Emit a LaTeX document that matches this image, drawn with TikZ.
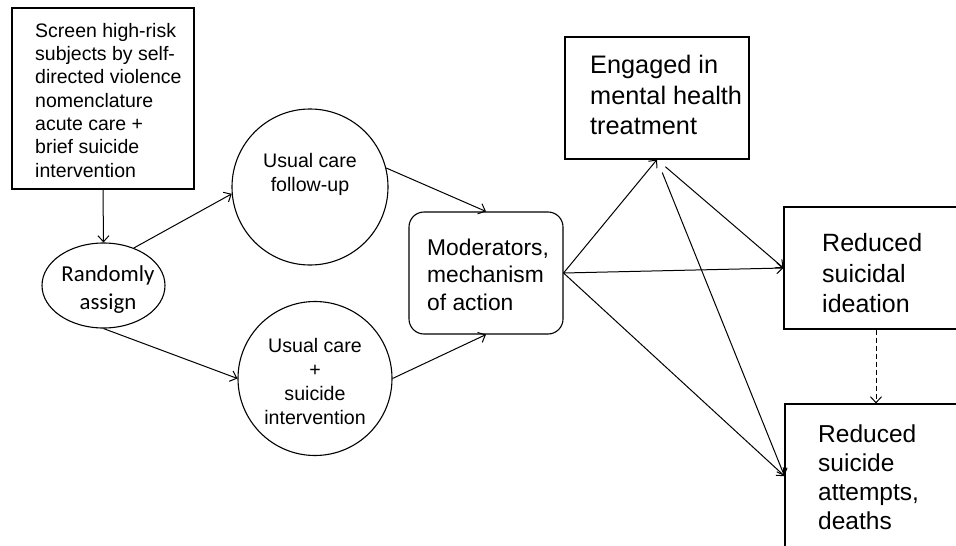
\documentclass[tikz,border=0pt]{standalone}
\usepackage{fontspec}
\setmainfont{Liberation Sans}
\newfontfamily\calibrifont{Carlito}
\usetikzlibrary{arrows.meta,shapes.geometric}

\begin{document}
\begin{tikzpicture}[x=1pt,y=1pt,yscale=-1,xscale=1,
  box/.style={draw, line width=1.1pt, inner sep=0pt},
  txt/.style={inner sep=0pt, align=left},
  link/.style={line width=1pt, -{Straight Barb[length=6pt,width=11pt]}}]
\useasboundingbox (0,0) rectangle (956,546);

%Shape: Rectangle
\node [box, rectangle, minimum width=182pt, minimum height=181pt] (screen) at (103,98.5) {};
%Shape: Ellipse
\node [box, ellipse, minimum width=123pt, minimum height=85pt] (rand) at (103.5,285.5) {};
%Shape: Circle
\node [box, circle, minimum size=156pt] (fup) at (310,187) {};
%Shape: Circle
\node [box, circle, minimum size=154pt] (sint) at (315,378.5) {};
%Shape: Rounded Rectangle
\node [box, rectangle, rounded corners=15pt, minimum width=154pt, minimum height=122pt] (moder) at (486,273) {};
%Shape: Rectangle
\node [box, rectangle, minimum width=184pt, minimum height=122pt] (engaged) at (657,98) {};
%Shape: Rectangle
\node [box, rectangle, minimum width=184pt, minimum height=122pt] (ideation) at (876,268) {};
%Shape: Rectangle
\node [box, rectangle, minimum width=182pt, minimum height=144pt] (attempts) at (876,476) {};

% Text Node
\node [txt, anchor=north west, font=\fontsize{19.5}{23.3}\selectfont] (screentxt) at (35,23) {Screen high-risk\\subjects by self-\\directed violence\\nomenclature\\acute care +\\brief suicide\\intervention};
% Text Node
\node [txt, align=center, anchor=north, font=\calibrifont\fontsize{22.8}{28}\selectfont] (randtxt) at (108,265) {Randomly\\assign};
% Text Node
\node [txt, align=center, anchor=north, font=\fontsize{19.6}{24.5}\selectfont] (fuptxt) at (310,153) {Usual care\\follow-up};
% Text Node
\node [txt, align=center, anchor=north, font=\fontsize{19.6}{24}\selectfont] (sinttxt) at (315,338) {Usual care\\+\\suicide\\intervention};
% Text Node
\node [txt, anchor=north west, font=\fontsize{22.8}{27.2}\selectfont] (modertxt) at (427,239) {Moderators,\\mechanism\\of action};
% Text Node
\node [txt, anchor=north west, font=\fontsize{25.3}{30.5}\selectfont] (engagedtxt) at (590,55) {Engaged in\\mental health\\treatment};
% Text Node
\node [txt, anchor=north west, font=\fontsize{25}{30.7}\selectfont] (ideationtxt) at (822,233) {Reduced\\suicidal\\ideation};
% Text Node
\node [txt, anchor=north west, font=\fontsize{24.5}{29}\selectfont] (attemptstxt) at (818,425) {Reduced\\suicide\\attempts,\\deaths};

%Straight Lines
\draw [link] (screen.south) -- (rand.north);
\draw [link] (rand.51) -- (fup.185);
\draw [link] (rand.south) -- (sint.west);
\draw [link] (fup.14) -- (moder.north);
\draw [link] (sint.east) -- (moder.south);
\draw [link] (moder.east) -- (engaged.south);
\draw [link] (moder.east) -- (ideation.west);
\draw [link] (moder.east) -- (attempts.west);
\draw [link, shorten <=11pt] (engaged.south) -- (ideation.west);
\draw [link, shorten <=14pt] (engaged.south) -- (attempts.west);
\draw [link, dash pattern=on 5pt off 3pt] (ideation.south) -- (attempts.north);
\end{tikzpicture}
\end{document}
